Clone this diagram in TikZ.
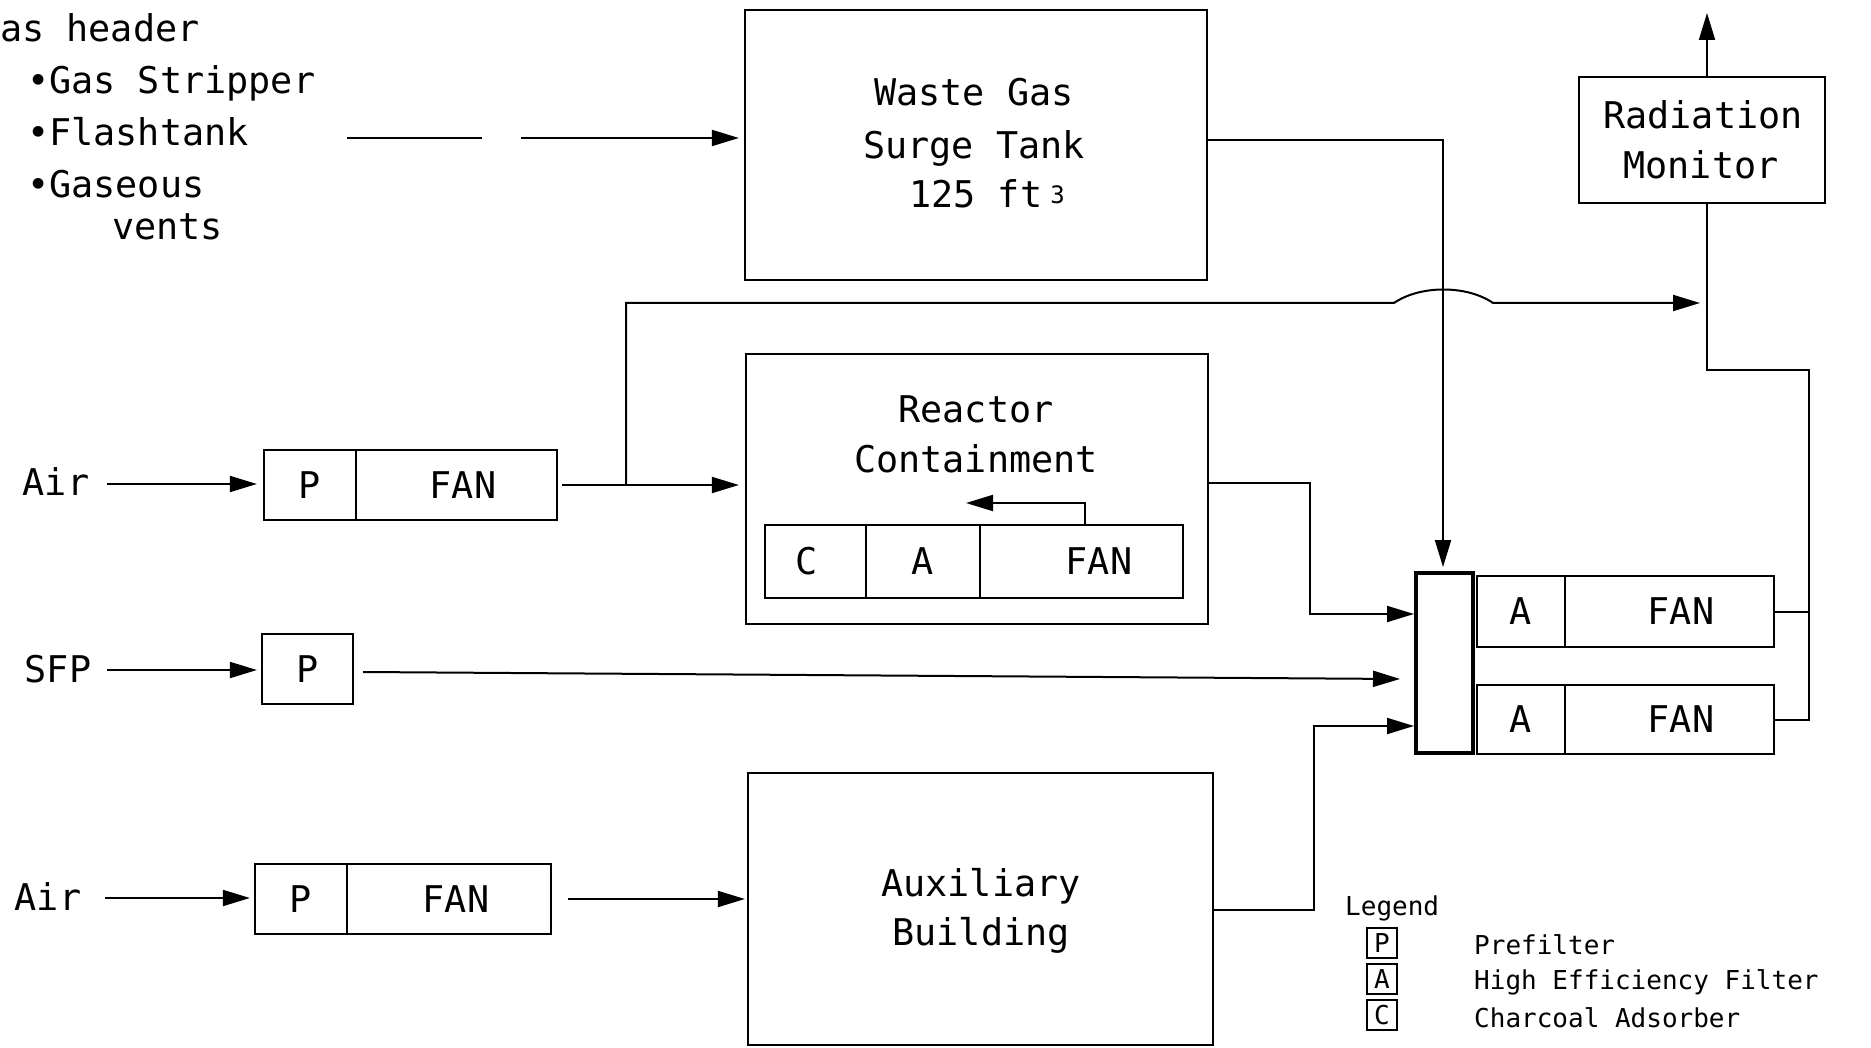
\documentclass[tikz,border=0pt]{standalone}
\usepackage{fontspec}
\setmainfont{DejaVu Sans Mono}
\usetikzlibrary{arrows.meta}
\newcommand\mybigfont{\fontsize{36.8}{42}\selectfont}
\newcommand\mysmallfont{\fontsize{26}{30}\selectfont}
\begin{document}
\begin{tikzpicture}[x=1pt,y=-1pt,
  box/.style={draw, line width=2.2pt, inner sep=0pt, font=\mybigfont},
  txt/.style={inner sep=0pt, font=\mybigfont},
  ltxt/.style={inner sep=0pt, font=\mysmallfont},
  arr/.style={-{Triangle[length=27pt,width=16pt]}, line width=2pt},
  ln/.style={line width=2pt}]
\fill[white] (0,0) rectangle (1871,1048);
\useasboundingbox (0,0) rectangle (1871,1048);

% gas header texts
\node[txt, anchor=base west] (hdr) at (0,42) {as header};
\node[txt, anchor=base west] (gs) at (27,94) {•Gas Stripper};
\node[txt, anchor=base west] (ft) at (27,146) {•Flashtank};
\node[txt, anchor=base west] (gv) at (27,198) {•Gaseous};
\node[txt, anchor=base west] (vt) at (112,240) {vents};

% waste gas surge tank
\node[box, minimum width=462pt, minimum height=270pt] (wgst) at (976,145) {};
\node[txt, anchor=base] (wg1) at (974,106) {Waste Gas};
\node[txt, anchor=base] (wg2) at (974,159) {Surge Tank};
\node[txt, anchor=base] (wg3) at (987,208) {125 ft\hspace{8pt}\raisebox{4pt}{\fontsize{24}{24}\selectfont 3}};

% gas line
\coordinate (g1) at (347,138);
\coordinate (g2) at (482,138);
\coordinate (g3) at (521,138);
\draw[ln] (g1) -- (g2);
\draw[arr] (g3) -- ([xshift=-5pt]wgst.west |- g3);

% radiation monitor
\node[box, minimum width=246pt, minimum height=126pt] (mon) at (1702,140) {};
\node[txt, anchor=base] (m1) at (1703,129) {Radiation};
\node[txt, anchor=base] (m2) at (1701,179) {Monitor};
\coordinate (exh) at (1707,13);
\draw[arr] (mon.north -| exh) -- (exh);

% reactor containment
\node[box, minimum width=462pt, minimum height=270pt] (rc) at (977,489) {};
\node[txt, anchor=base] (rc1) at (976,422) {Reactor};
\node[txt, anchor=base] (rc2) at (976,472) {Containment};
\node[box, minimum width=101pt, minimum height=73pt] (rcC) at (815.5,561.5) {};
\node[txt] (rcCt) at (807,561.5) {C};
\node[box, minimum width=114pt, minimum height=73pt] (rcA) at (923,561.5) {A};
\node[box, minimum width=203pt, minimum height=73pt] (rcF) at (1081.5,561.5) {};
\node[txt] (rcFt) at (1099,561.5) {FAN};
\coordinate (rcr1) at (1085,503);
\coordinate (rcr2) at (966,503);
\draw[arr] (rcF.north -| rcr1) -- (rcr1) -- (rcr2);

% air top
\node[txt] (air1) at (56,482) {Air};
\node[box, minimum width=92pt, minimum height=70pt] (p1) at (310,485) {P};
\node[box, minimum width=201pt, minimum height=70pt] (f1) at (456.5,485) {};
\node[txt] (f1t) at (463,485) {FAN};
\coordinate (ai1) at (107,484);
\draw[arr] (ai1) -- ([xshift=-6pt]p1.west |- ai1);
\draw[arr] ([xshift=4pt]f1.east) -- ([xshift=-6pt]rc.west |- f1.east);
\coordinate (j1) at (626,485);
\coordinate (h1) at (1394,303);
\coordinate (h2) at (1493,303);
\coordinate (mx1) at (1700,303);
\draw[arr] (j1) |- (h1) .. controls (1420,285) and (1467,285) .. (h2) -- (mx1);

% mixing box and filter trains
\node[draw, line width=4pt, inner sep=0pt, minimum width=57pt, minimum height=180pt] (mix) at (1444.5,663) {};
\coordinate (w1) at (1443,140);
\draw[arr, shorten >=4pt] (wgst.east |- w1) -- (w1) -- (w1 |- mix.north);

\node[box, minimum width=88pt, minimum height=71pt] (a1) at (1521,611.5) {A};
\node[box, minimum width=209pt, minimum height=71pt] (fn1) at (1669.5,611.5) {};
\node[txt] (fn1t) at (1681,611.5) {FAN};
\node[box, minimum width=88pt, minimum height=69pt] (a2) at (1521,719.5) {A};
\node[box, minimum width=209pt, minimum height=69pt] (fn2) at (1669.5,719.5) {};
\node[txt] (fn2t) at (1681,719.5) {FAN};

\coordinate (r1) at (1809,370);
\draw[ln] (mon.south -| exh) |- (r1) -- (r1 |- fn2.east) -- (fn2.east);
\draw[ln] (fn1.east) -- (fn1.east -| r1);

% RC to mix
\coordinate (k1) at (1310,483);
\coordinate (k2) at (1414,614);
\draw[arr] (rc.east |- k1) -- (k1) |- (k2);

% SFP
\node[txt] (sfp) at (58,669) {SFP};
\node[box, minimum width=91pt, minimum height=70pt] (p2) at (307.5,669) {P};
\coordinate (si1) at (107,670);
\draw[arr] (si1) -- ([xshift=-4pt]p2.west |- si1);
\coordinate (s2) at (1400,679);
\draw[arr] ([xshift=9pt,yshift=-3pt]p2.east) -- (s2);

% air bottom
\node[txt] (air2) at (48,897) {Air};
\node[box, minimum width=92pt, minimum height=70pt] (p3) at (301,899) {P};
\node[box, minimum width=204pt, minimum height=70pt] (f3) at (449,899) {};
\node[txt] (f3t) at (456,899) {FAN};
\node[box, minimum width=465pt, minimum height=272pt] (aux) at (980.5,909) {};
\node[txt, anchor=base] (ax1) at (981,896) {Auxiliary};
\node[txt, anchor=base] (ax2) at (981,945) {Building};
\coordinate (ai3) at (105,898);
\draw[arr] (ai3) -- ([xshift=-4pt]p3.west |- ai3);
\draw[arr] ([xshift=16pt]f3.east) -- ([xshift=-2pt]aux.west |- f3.east);
\coordinate (b1) at (1314,910);
\coordinate (b2) at (1414,726);
\draw[arr] (aux.east |- b1) -- (b1) |- (b2);

% legend
\node[ltxt, anchor=west] (leg) at (1345,908) {Legend};
\node[box, font=\mysmallfont, minimum width=30pt, minimum height=30pt] (lp) at (1382,943) {P};
\node[box, font=\mysmallfont, minimum width=30pt, minimum height=30pt] (la) at (1382,979) {A};
\node[box, font=\mysmallfont, minimum width=30pt, minimum height=30pt] (lc) at (1382,1015) {C};
\node[ltxt, anchor=west] (lpt) at (1474,945) {Prefilter};
\node[ltxt, anchor=west] (lat) at (1474,982) {High Efficiency Filter};
\node[ltxt, anchor=west] (lct) at (1474,1018) {Charcoal Adsorber};
\end{tikzpicture}
\end{document}
